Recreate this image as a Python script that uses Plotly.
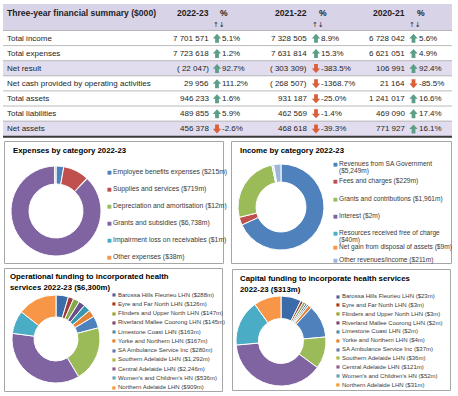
import plotly.graph_objects as go

W, H = 458, 396
FONT = "Liberation Sans, Arial, sans-serif"

# ---------------- data ----------------
summary_title = "Three-year financial summary ($000)"
years = ["2022-23", "2021-22", "2020-21"]
row_labels = ["Total income", "Total expenses", "Net result",
              "Net cash provided by operating activities", "Total assets",
              "Total liabilities", "Net assets"]
values_2022_23 = [7701571, 7723618, -22047, 29956, 946233, 489855, 456378]
pct_2022_23 = [5.1, 1.2, 92.7, 111.2, 1.6, 5.9, -2.6]
values_2021_22 = [7328505, 7631814, -303309, -268507, 931187, 462569, 468618]
pct_2021_22 = [8.9, 15.3, -383.5, -1368.7, -25.0, -1.4, -39.3]
values_2020_21 = [6728042, 6621051, 106991, 21164, 1241017, 469090, 771927]
pct_2020_21 = [5.6, 4.9, 92.4, -85.5, 16.6, 17.4, 16.1]
highlight_rows = ["Net result", "Net assets"]

exp_title = "Expenses by category 2022-23"
exp_categories = ["Employee benefits expenses", "Supplies and services",
                  "Depreciation and amortisation", "Grants and subsidies",
                  "Impairment loss on receivables", "Other expenses"]
exp_values = [215, 719, 12, 6738, 1, 38]

inc_title = "Income by category 2022-23"
inc_categories = ["Revenues from SA Government", "Fees and charges",
                  "Grants and contributions", "Interest",
                  "Resources received free of charge",
                  "Net gain from disposal of assets", "Other revenues/income"]
inc_values = [5249, 229, 1961, 2, 40, 9, 211]

lhn_categories = ["Barossa Hills Fleurieu LHN", "Eyre and Far North LHN",
                  "Flinders and Upper North LHN", "Riverland Mallee Coorong LHN",
                  "Limestone Coast LHN", "Yorke and Northern LHN",
                  "SA Ambulance Service Inc", "Southern Adelaide LHN",
                  "Central Adelaide LHN", "Women's and Children's HN",
                  "Northern Adelaide LHN"]
op_title = ["Operational funding to incorporated health", "services 2022-23 ($6,300m)"]
op_values = [288, 126, 147, 145, 163, 167, 280, 1292, 2246, 536, 909]
cap_title = ["Capital funding to incorporate health services", "2022-23 ($313m)"]
cap_values = [23, 3, 3, 2, 2, 4, 37, 36, 121, 52, 31]

# ---------------- styles ----------------
PAL6 = ["#4F81BD", "#C0504D", "#9BBB59", "#8064A2", "#4BACC6", "#F79646"]
INC_COLORS = PAL6 + ["#9FB6DC"]
LHN_COLORS = ["#3C6BAA", "#9E3B38", "#86A84C", "#664F8A", "#3B97B0", "#E3833A",
              "#4F81BD", "#9BBB59", "#8064A2", "#4BACC6", "#F79646"]
UP_C, DOWN_C = "#5C9F88", "#DA5E3A"
LAV_HEAD, LAV_ROW = "#D9D3E8", "#E2DDEE"
TXT = "#1E1E1E"


def X(x):
    return x / W


def Y(y):
    return 1 - y / H


annotations = []
shapes = []


def ann(x, y, text, size=8, color=TXT, anchor="left", family=FONT):
    annotations.append(dict(x=X(x), y=Y(y), xref="paper", yref="paper", text=text,
                            showarrow=False, xanchor=anchor, yanchor="middle",
                            borderpad=0, borderwidth=0,
                            font=dict(size=size, color=color, family=family)))


def rect(x0, y0, x1, y1, fill=None, line=None, lw=1):
    shapes.append(dict(type="rect", xref="paper", yref="paper",
                       x0=X(x0), x1=X(x1), y0=Y(y1), y1=Y(y0),
                       fillcolor=fill if fill else "rgba(0,0,0,0)",
                       line=dict(color=line if line else "rgba(0,0,0,0)", width=lw if line else 0),
                       layer="below"))


def hline(x0, x1, y, color, w):
    shapes.append(dict(type="line", xref="paper", yref="paper",
                       x0=X(x0), x1=X(x1), y0=Y(y), y1=Y(y),
                       line=dict(color=color, width=w)))


def block_arrow(cx, cy, up, color):
    s = -1 if up else 1  # direction of the tip in screen y
    hw, sw, hh, tot = 4.2, 1.9, 4.6, 9.0
    tip = cy + s * tot / 2
    base = cy - s * tot / 2
    neck = tip - s * hh
    pts = [(cx, tip), (cx + hw, neck), (cx + sw, neck), (cx + sw, base),
           (cx - sw, base), (cx - sw, neck), (cx - hw, neck)]
    path = "M " + " L ".join(f"{X(px):.5f},{Y(py):.5f}" for px, py in pts) + " Z"
    shapes.append(dict(type="path", xref="paper", yref="paper", path=path,
                       fillcolor=color, line=dict(width=0)))


def fmt_num(v):
    s = f"{abs(v):,}".replace(",", " ")
    return f"( {s})" if v < 0 else s


# ---------------- summary table ----------------
TX0, TX1 = 3, 452
HEAD_TOP, HEAD_BOT = 4, 30.5
ROW_H = 15.1
rect(TX0, HEAD_TOP, TX1, HEAD_BOT, fill=LAV_HEAD)
ann(7, 13, f"<b>{summary_title}</b>", size=8.6)

val_right = [209, 307, 405]
arrow_cx = [217, 316, 413.5]
pct_left = [222, 321, 419]
cols = [(values_2022_23, pct_2022_23), (values_2021_22, pct_2021_22),
        (values_2020_21, pct_2020_21)]

for j, yr in enumerate(years):
    ann(val_right[j], 13, f"<b>{yr}</b>", size=8.6, anchor="right")
    ann(pct_left[j] - 2.5, 13, "<b>%</b>", size=8.6)
    ann(arrow_cx[j] + 1.5, 25, "↑↓", size=7, anchor="center", family="DejaVu Sans")

for i, lab in enumerate(row_labels):
    top = HEAD_BOT + ROW_H * i
    cy = top + ROW_H / 2 + 0.3
    if lab in highlight_rows:
        rect(TX0, top, TX1, top + ROW_H, fill=LAV_ROW)
    ann(7, cy, lab, size=8)
    for j, (vals, pcts) in enumerate(cols):
        ann(val_right[j], cy, fmt_num(vals[i]), size=8, anchor="right")
        up = pcts[i] >= 0
        block_arrow(arrow_cx[j], cy, up, UP_C if up else DOWN_C)
        ann(pct_left[j], cy, f"{pcts[i]:.1f}%", size=8)
    if i > 0:
        hline(TX0, TX1, top, "#A8A8A8", 0.8)
hline(TX0, TX1, HEAD_BOT, "#A8A8A8", 0.8)
hline(TX0, TX1, HEAD_BOT + ROW_H * len(row_labels) + 0.5, "#3A3A3A", 2)

# ---------------- panels ----------------
rect(4.5, 141.5, 223.5, 263.5, line="#A6A6A6")
rect(231.5, 141.5, 451.5, 263.5, line="#A6A6A6")
rect(4.5, 268.5, 222.5, 391.5, line="#A6A6A6")
rect(232.5, 269.5, 450.5, 390.5, line="#A6A6A6")

TS = 7.8
ann(13, 151, f"<b>{exp_title}</b>", size=TS, color="#000")
ann(240, 150, f"<b>{inc_title}</b>", size=TS, color="#000")
ann(10, 276, f"<b>{op_title[0]}</b>", size=TS, color="#000")
ann(10, 287, f"<b>{op_title[1]}</b>", size=TS, color="#000")
ann(240, 278, f"<b>{cap_title[0]}</b>", size=TS, color="#000")
ann(240, 289, f"<b>{cap_title[1]}</b>", size=TS, color="#000")


def legend_entry(mx, y, color, lines, size, msize, dy):
    ann(mx, y, "■", size=msize, color=color, anchor="center", family="DejaVu Sans")
    for k, ln in enumerate(lines):
        ann(mx + 4, y + k * dy, ln, size=size, color="#3A3A3A")


# expenses legend
exp_leg_y0, exp_leg_dy = 172, 16.9
for i, (c, v) in enumerate(zip(exp_categories, exp_values)):
    legend_entry(109, exp_leg_y0 + i * exp_leg_dy, PAL6[i], [f"{c} (${v:,}m)"], 6.8, 5, 0)

# income legend (Excel wraps two long entries)
inc_leg_y = [163.5, 181.5, 198.5, 215.5, 232.5, 246.5, 260]
inc_wrap = {0, 4}
for i, (c, v) in enumerate(zip(inc_categories, inc_values)):
    lines = [c, f"(${v:,}m)"] if i in inc_wrap else [f"{c} (${v:,}m)"]
    legend_entry(335, inc_leg_y[i], INC_COLORS[i], lines, 6.6, 5, 7.5)

# operational & capital legends
for i, (c, v) in enumerate(zip(lhn_categories, op_values)):
    legend_entry(113.5, 294.5 + i * 9.25, LHN_COLORS[i], [f"{c} (${v:,}m)"], 6, 4, 0)
for i, (c, v) in enumerate(zip(lhn_categories, cap_values)):
    legend_entry(337.5, 296 + i * 8.85, LHN_COLORS[i], [f"{c} (${v:,}m)"], 6, 4, 0)


# ---------------- donuts ----------------
def donut(labels, values, colors, cx, cy, r, hole):
    return go.Pie(labels=labels, values=values, hole=hole, sort=False,
                  direction="clockwise", rotation=0, textinfo="none",
                  showlegend=False, hoverinfo="label+value",
                  marker=dict(colors=colors, line=dict(color="white", width=1)),
                  domain=dict(x=[X(cx - r), X(cx + r)], y=[Y(cy + r), Y(cy - r)]))


fig = go.Figure()
fig.add_trace(donut(exp_categories, exp_values, PAL6, 56, 211, 45, 0.6))
fig.add_trace(donut(inc_categories, inc_values, INC_COLORS, 281, 207, 43, 0.58))
fig.add_trace(donut(lhn_categories, op_values, LHN_COLORS, 56, 339, 44, 0.5))
fig.add_trace(donut(lhn_categories, cap_values, LHN_COLORS, 281, 341, 45, 0.5))

fig.update_layout(width=W, height=H, margin=dict(l=0, r=0, t=0, b=0),
                  paper_bgcolor="white", plot_bgcolor="white",
                  annotations=annotations, shapes=shapes,
                  font=dict(family=FONT))

fig.write_html("out.html", config={"displayModeBar": False},
               post_script="document.body.style.margin='0';")
